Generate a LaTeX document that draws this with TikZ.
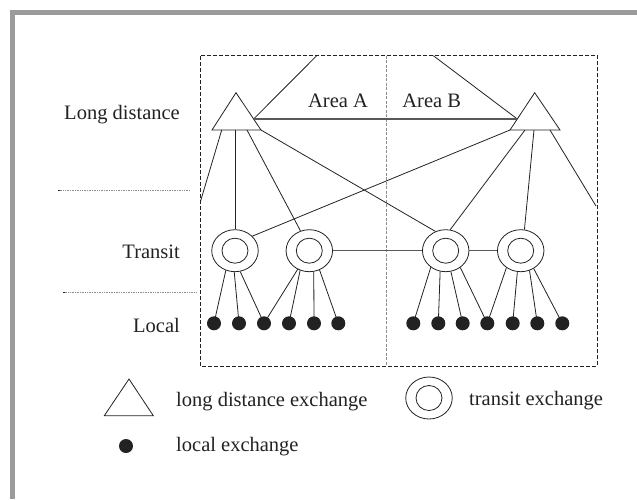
\documentclass[tikz,border=0pt]{standalone}
\usepackage{fontspec}
\setmainfont{Liberation Serif}
\usetikzlibrary{shapes.geometric}
\definecolor{framegray}{HTML}{9B9B9B}
\definecolor{ink}{HTML}{222222}
\tikzset{
  lbl/.style={font=\fontsize{20.5}{24}\selectfont, text=ink, inner sep=0pt},
  wire/.style={draw=ink, line width=0.8pt},
  hwire/.style={draw=black!65, line width=1.1pt},
  exch/.style={draw=ink, line width=0.8pt},
  transit/.style={ellipse, draw=ink, line width=0.8pt, minimum width=46.5pt, minimum height=42pt, inner sep=0pt},
  localx/.style={circle, fill=ink, minimum size=14pt, inner sep=0pt},
  boxline/.style={draw=ink, line width=0.8pt, dash pattern=on 4pt off 2pt},
  divline/.style={draw=black!45, line width=0.6pt, dash pattern=on 3pt off 1.5pt},
  sepline/.style={draw=black!45, line width=0.6pt, dash pattern=on 1pt off 0.7pt},
}
\newcommand{\innerring}[1]{\draw[exch] (#1.center) ellipse [x radius=13pt, y radius=12.5pt];}
\begin{document}
\begin{tikzpicture}[x=1pt, y=-1pt]
\useasboundingbox (0,0) rectangle (637,499);
% outer frame
\fill[framegray] (10,10) rectangle (637,15);
\fill[framegray] (10,10) rectangle (15,499);

% area box
\draw[boxline] (200.7,55.7) rectangle (597.7,366);
\draw[divline] (386.7,55.7) -- (386.7,366);

% separators
\coordinate (s1a) at (58,190.3); \coordinate (s1b) at (190,190.3);
\coordinate (s2a) at (63,292.3); \coordinate (s2b) at (195.7,292.3);
\draw[sepline] (s1a) -- (s1b);
\draw[sepline] (s2a) -- (s2b);
\draw[ink, line width=0.8pt] (s1a) -- ++(2,0);
\draw[ink, line width=0.8pt] (s2a) -- ++(2,0);

% level labels
\node[lbl, anchor=base east] (tLong) at (180,119.3) {Long distance};
\node[lbl, anchor=base east] (tTransit) at (180,258.3) {Transit};
\node[lbl, anchor=base east] (tLocal) at (180,332.7) {Local};
\node[lbl, anchor=base] (tAreaA) at (338,107.3) {Area A};
\node[lbl, anchor=base] (tAreaB) at (431.7,107.3) {Area B};

% long distance exchanges (triangles)
\coordinate (La) at (236,92.7); \coordinate (Ll) at (212,130); \coordinate (Lr) at (261,130);
\coordinate (Ra) at (534.7,92.7); \coordinate (Rl) at (510,130); \coordinate (Rr) at (560,130);
\draw[exch, line join=miter] (La) -- (Ll) -- (Lr) -- cycle;
\draw[exch, line join=miter] (Ra) -- (Rl) -- (Rr) -- cycle;
\coordinate (Le) at (253.6,119);
\coordinate (Re) at (517.3,119);
\coordinate (Lb1) at (221.7,130); \coordinate (Lb2) at (235,130); \coordinate (Lb3) at (247,130);
\coordinate (Rb2) at (525,130); \coordinate (Rb3) at (534,130); \coordinate (Rb4) at (550,130);
\coordinate (topA) at (316.7,55.7); \coordinate (topB) at (433.3,55.7);
\coordinate (edgeL) at (200.7,200.7); \coordinate (edgeR) at (596,206);

% transit exchanges
\node[transit] (A) at (235,250.7) {}; \innerring{A}
\node[transit] (B) at (309.3,250.7) {}; \innerring{B}
\node[transit] (C) at (445.7,250.7) {}; \innerring{C}
\node[transit] (D) at (520.7,250.7) {}; \innerring{D}

% local exchanges
\foreach \n/\x in {1/214,2/239,3/264,4/289,5/314,6/338.3,7/413.3,8/438.3,9/462.7,10/487.3,11/512.7,12/537.3,13/562.3}
  \node[localx] (d\n) at (\x,323.3) {};

% long distance connections
\draw[wire] (topA) -- (Le);
\draw[wire] (topB) -- (Re);
\draw[hwire] (Le) -- (Re);
\draw[wire] (Lb1) -- (edgeL);
\draw[wire] (Lb2) -- (A);
\draw[wire] (Lb3) -- (B.114);
\draw[wire] (Lr) -- (C.118);
\draw[wire] (Rl) -- (A.40);
\draw[wire] (Rb2) -- (C.78);
\draw[wire] (Rb3) -- (D.80);
\draw[wire] (Rb4) -- (edgeR);

% transit connections
\draw[hwire] (B.east) -- (C.west);
\draw[hwire] (C.east) -- (D.west);

% transit to local
\draw[wire] (A.245) -- (d1.center);
\draw[wire] (A.268) -- (d2.center);
\draw[wire] (A.284) -- (d3.center);
\draw[wire] (B.238) -- (d3.center);
\draw[wire] (B.245) -- (d4.center);
\draw[wire] (B.282) -- (d5.center);
\draw[wire] (B.298) -- (d6.center);
\draw[wire] (C.228) -- (d7.center);
\draw[wire] (C.255) -- (d8.center);
\draw[wire] (C.284) -- (d9.center);
\draw[wire] (C.311) -- (d10.center);
\draw[wire] (D.230) -- (d10.center);
\draw[wire] (D.261) -- (d11.center);
\draw[wire] (D.294) -- (d12.center);
\draw[wire] (D.306) -- (d13.center);

% legend
\coordinate (ga) at (129,379); \coordinate (gl) at (104.3,415.7); \coordinate (gr) at (153.3,415.7);
\draw[exch, line join=miter] (ga) -- (gl) -- (gr) -- cycle;
\node[lbl, anchor=base west] (tLD) at (176,406) {long distance exchange};
\node[transit] (gT) at (429,398) {}; \innerring{gT}
\node[lbl, anchor=base west] (tTE) at (469,405) {transit exchange};
\node[localx] (gL) at (126,446) {};
\node[lbl, anchor=base west] (tLE) at (176,451.7) {local exchange};
\end{tikzpicture}
\end{document}
